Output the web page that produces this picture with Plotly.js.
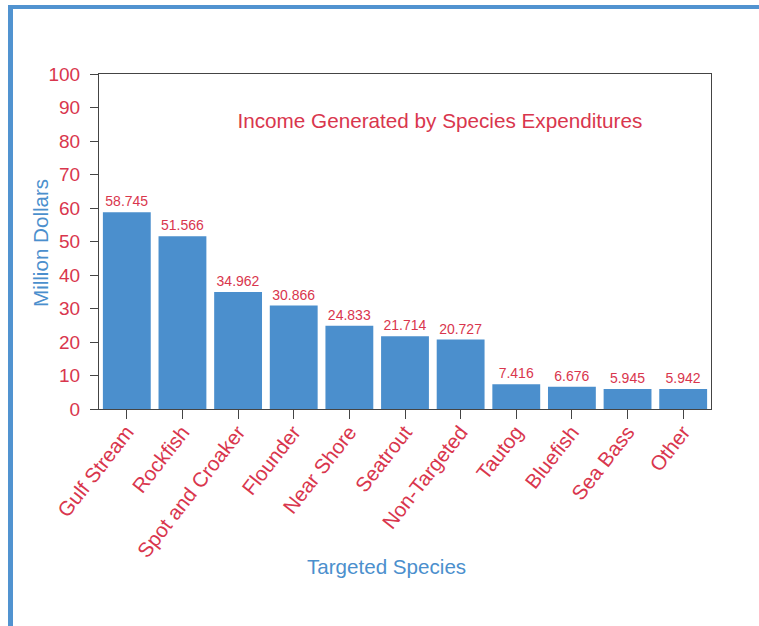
<!DOCTYPE html>
<html>
<head>
<meta charset="utf-8">
<script src="https://cdn.plot.ly/plotly-3.0.1.min.js"></script>
<style>
  html, body { margin: 0; padding: 0; background: #ffffff; }
  #frame { position: absolute; left: 8px; top: 5px; width: 800px; height: 700px;
           border-left: 5px solid #5193d0; border-top: 4px solid #5193d0; box-sizing: border-box; }
  #chart { position: absolute; left: 0; top: 0; width: 759px; height: 626px; }
</style>
</head>
<body>
<div id="frame"></div>
<div id="chart"></div>
<script>
const categories = ["Gulf Stream", "Rockfish", "Spot and Croaker", "Flounder", "Near Shore",
                    "Seatrout", "Non-Targeted", "Tautog", "Bluefish", "Sea Bass", "Other"];
const values = [58.745, 51.566, 34.962, 30.866, 24.833, 21.714, 20.727, 7.416, 6.676, 5.945, 5.942];
const yTicks = [0, 10, 20, 30, 40, 50, 60, 70, 80, 90, 100];

const RED = "#d9364d";
const BLUE = "#4b8fcd";
const FONT = "Liberation Sans, Arial, sans-serif";

const trace = {
  type: "bar",
  x: categories,
  y: values,
  text: values.map(v => v.toFixed(3)),
  textposition: "outside",
  cliponaxis: false,
  textfont: { family: FONT, size: 14, color: RED },
  marker: { color: BLUE, line: { width: 0 } },
  hoverinfo: "x+y"
};

const layout = {
  width: 759, height: 626,
  margin: { l: 99, r: 48, t: 74, b: 217, pad: 0 },
  paper_bgcolor: "rgba(0,0,0,0)",
  plot_bgcolor: "#ffffff",
  showlegend: false,
  bargap: 0.14,
  font: { family: FONT, color: RED },
  title: {
    text: "Income Generated by Species Expenditures",
    font: { family: FONT, size: 20.7, color: RED },
    xref: "paper", yref: "paper", x: 0.557, y: 0.86,
    xanchor: "center", yanchor: "middle"
  },
  xaxis: {
    type: "category",
    range: [-0.5, 10.5],
    showline: true, linecolor: "#444", linewidth: 1, mirror: true,
    ticks: "outside", ticklen: 9, tickcolor: "#444", tickwidth: 1,
    tickangle: -52,
    ticklabelstandoff: -7,
    tickfont: { family: FONT, size: 20.5, color: RED },
    showgrid: false, zeroline: false
  },
  yaxis: {
    range: [0, 100],
    tickvals: yTicks,
    ticktext: yTicks.map(String),
    showline: true, linecolor: "#444", linewidth: 1, mirror: true,
    ticks: "outside", ticklen: 8, tickcolor: "#444", tickwidth: 1,
    ticklabelstandoff: 6,
    tickfont: { family: FONT, size: 19, color: RED },
    showgrid: false, zeroline: false
  },
  annotations: [
    { text: "Targeted Species", xref: "paper", yref: "paper", x: 0.469, y: -0.4687,
      xanchor: "center", yanchor: "middle", showarrow: false,
      font: { family: FONT, size: 20.6, color: BLUE } },
    { text: "Million Dollars", xref: "paper", yref: "paper", x: -0.0964, y: 0.4955,
      xanchor: "center", yanchor: "middle", showarrow: false, textangle: -90,
      font: { family: FONT, size: 20.6, color: BLUE } }
  ]
};

Plotly.newPlot("chart", [trace], layout, { displayModeBar: false, staticPlot: true });
</script>
</body>
</html>
